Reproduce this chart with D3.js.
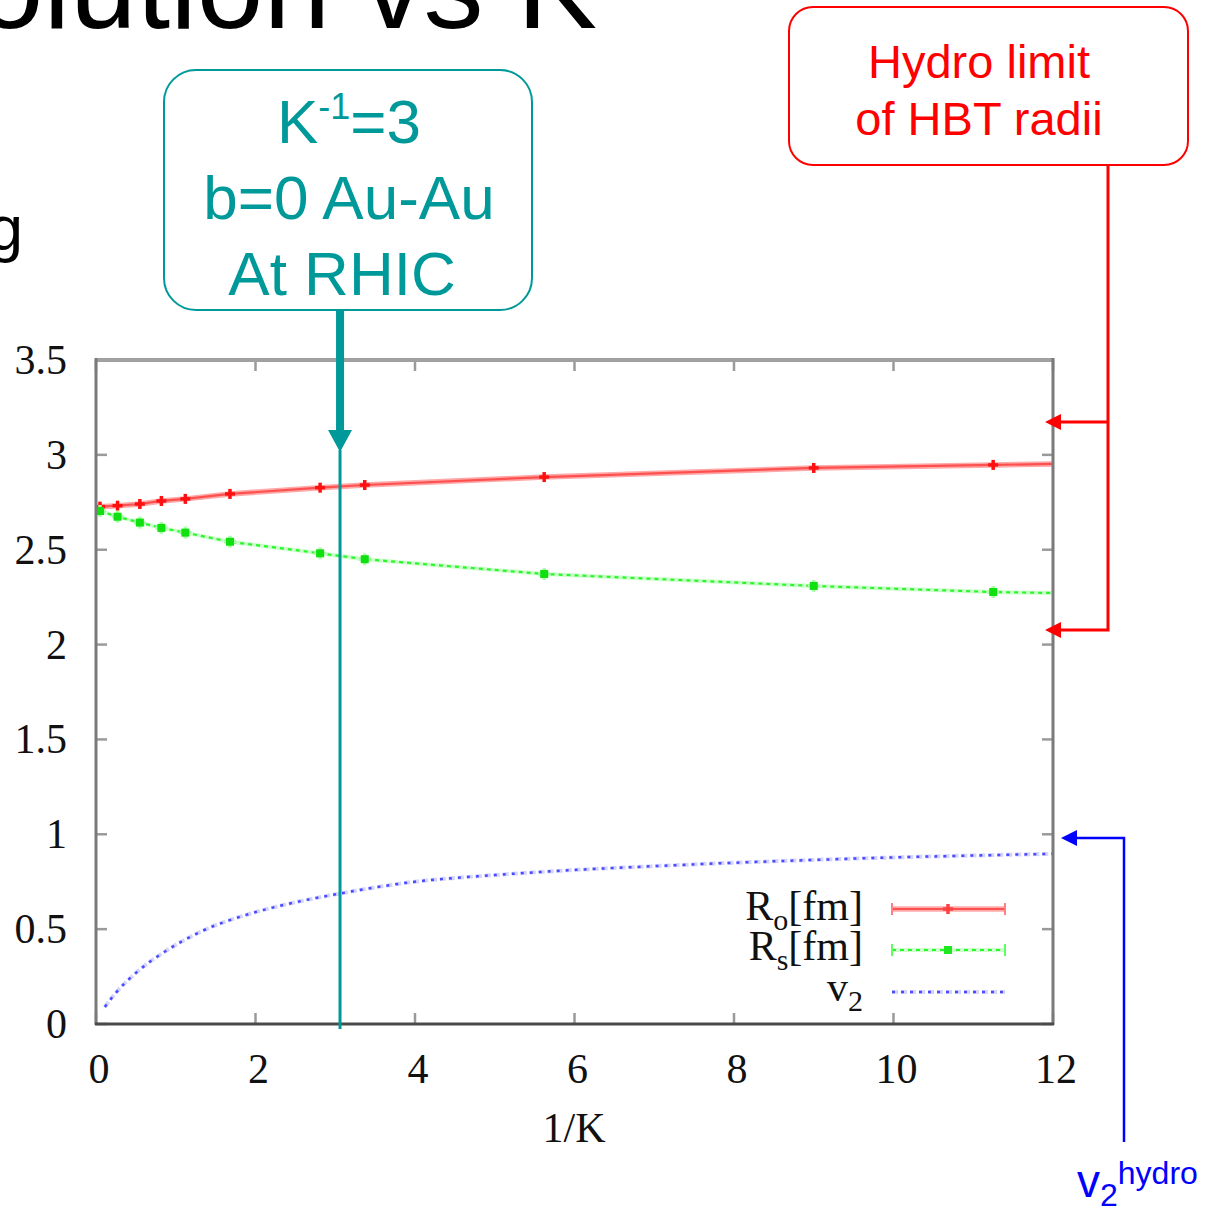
<!DOCTYPE html>
<html>
<head>
<meta charset="utf-8">
<script src="https://cdn.jsdelivr.net/npm/d3@7"></script>
<style>
  body { margin: 0; background: #fff; }
  svg { display: block; }
</style>
</head>
<body>
<svg id="chart" width="1207" height="1212"></svg>
<script>
// 1/K values of the transport runs (last entry is the line end at the frame)
const invK = [0.05, 0.27, 0.55, 0.82, 1.12, 1.68, 2.81, 3.37, 5.62, 9.0, 11.25, 12];
// HBT radii in fm
const rOut  = [2.727, 2.732, 2.741, 2.757, 2.768, 2.794, 2.827, 2.841, 2.883, 2.931, 2.947, 2.952];
const rSide = [2.704, 2.674, 2.643, 2.615, 2.590, 2.542, 2.481, 2.450, 2.372, 2.309, 2.277, 2.272];
// elliptic flow curve
const v2X   = [0.11, 0.24, 0.53, 0.88, 1.33, 1.92, 2.42, 3.05, 4, 5, 6, 7, 8, 9, 10, 11, 12];
const v2Val = [0.09, 0.16, 0.28, 0.386, 0.49, 0.58, 0.634, 0.687, 0.75, 0.785, 0.812, 0.832, 0.85, 0.865, 0.878, 0.888, 0.897];
// axis ticks
const xTicks = [0, 2, 4, 6, 8, 10, 12];
const yTicks = [0, 0.5, 1, 1.5, 2, 2.5, 3, 3.5];
// legend entries
const legendNames = [["R", "o", "[fm]"], ["R", "s", "[fm]"], ["v", "2", ""]];

const svg = d3.select("#chart");
const serif = "'Liberation Serif', 'DejaVu Serif', serif";
const sans = "'Liberation Sans', Arial, sans-serif";

const x = d3.scaleLinear().domain([0, 12]).range([96, 1053]);
const y = d3.scaleLinear().domain([0, 3.5]).range([1024, 360]);

// slide title and cropped body text
svg.append("text").attr("x", 597).attr("y", 28).attr("text-anchor", "end")
  .attr("font-family", sans).attr("font-size", 120).attr("fill", "#000")
  .text("Evolution vs K");
svg.append("text").attr("x", -12).attr("y", 250)
  .attr("font-family", sans).attr("font-size", 63).attr("fill", "#000")
  .text("g");

// plot clip
svg.append("clipPath").attr("id", "plotclip").append("rect")
  .attr("x", 96).attr("y", 360).attr("width", 957).attr("height", 664);

// ticks (mirrored on all four sides, pointing inward)
const tickG = svg.append("g").attr("stroke", "#9a9a9a").attr("stroke-width", 2.5);
yTicks.forEach(t => {
  tickG.append("line").attr("x1", x(0)).attr("x2", x(0) + 11).attr("y1", y(t)).attr("y2", y(t));
  tickG.append("line").attr("x1", x(12)).attr("x2", x(12) - 11).attr("y1", y(t)).attr("y2", y(t));
});
xTicks.forEach(t => {
  tickG.append("line").attr("x1", x(t)).attr("x2", x(t)).attr("y1", y(0)).attr("y2", y(0) - 11);
  tickG.append("line").attr("x1", x(t)).attr("x2", x(t)).attr("y1", y(3.5)).attr("y2", y(3.5) + 11);
});

// tick labels
svg.append("g").selectAll("text").data(yTicks).join("text")
  .attr("x", 67).attr("y", d => y(d) + 14).attr("text-anchor", "end")
  .attr("font-family", serif).attr("font-size", 42).attr("fill", "#111")
  .text(d => String(d));
svg.append("g").selectAll("text").data(xTicks).join("text")
  .attr("x", d => x(d) + 3).attr("y", 1083).attr("text-anchor", "middle")
  .attr("font-family", serif).attr("font-size", 42).attr("fill", "#111")
  .text(d => String(d));
svg.append("text").attr("x", 574).attr("y", 1142).attr("text-anchor", "middle")
  .attr("font-family", serif).attr("font-size", 42).attr("fill", "#111")
  .text("1/K");

// series
const plot = svg.append("g").attr("clip-path", "url(#plotclip)");
const outPts = invK.map((k, i) => [k, rOut[i]]);
const sidePts = invK.map((k, i) => [k, rSide[i]]);
const v2Pts = v2X.map((k, i) => [k, v2Val[i]]);
const line = d3.line().x(d => x(d[0])).y(d => y(d[1]));
const smooth = d3.line().x(d => x(d[0])).y(d => y(d[1])).curve(d3.curveMonotoneX);

// R_out: thick pale red line with + markers
plot.append("path").attr("d", line(outPts)).attr("fill", "none")
  .attr("stroke", "#ffa8a8").attr("stroke-width", 5.5);
plot.append("path").attr("d", line(outPts)).attr("fill", "none")
  .attr("stroke", "#ff5050").attr("stroke-width", 2.2);
const plus = (g, cx, cy, col, r) => {
  g.append("line").attr("x1", cx - r).attr("x2", cx + r).attr("y1", cy).attr("y2", cy)
    .attr("stroke", col).attr("stroke-width", 3.5);
  g.append("line").attr("x1", cx).attr("x2", cx).attr("y1", cy - r).attr("y2", cy + r)
    .attr("stroke", col).attr("stroke-width", 3.5);
};
outPts.filter(d => d[0] < 12).forEach(d => plus(plot, x(d[0]), y(d[1]), "#ff1010", 5));

// R_side: dashed green line with square markers
plot.append("path").attr("d", line(sidePts)).attr("fill", "none")
  .attr("stroke", "#ccffcc").attr("stroke-width", 4);
plot.append("path").attr("d", line(sidePts)).attr("fill", "none")
  .attr("stroke", "#2bf52b").attr("stroke-width", 2.2).attr("stroke-dasharray", "4,4");
sidePts.filter(d => d[0] < 12).forEach(d => {
  plus(plot, x(d[0]), y(d[1]), "#a8ffa8", 6);
  plot.append("rect").attr("x", x(d[0]) - 4).attr("y", y(d[1]) - 4)
    .attr("width", 8).attr("height", 8).attr("fill", "#10e010");
});

// v2: dotted blue curve
plot.append("path").attr("d", smooth(v2Pts)).attr("fill", "none")
  .attr("stroke", "#d4d4ff").attr("stroke-width", 4).attr("stroke-dasharray", "6,3");
plot.append("path").attr("d", smooth(v2Pts)).attr("fill", "none")
  .attr("stroke", "#4a4aff").attr("stroke-width", 2.5).attr("stroke-dasharray", "3,6");

// frame
svg.append("line").attr("x1", 96).attr("x2", 1053).attr("y1", 360).attr("y2", 360)
  .attr("stroke", "#a0a0a0").attr("stroke-width", 4);
svg.append("line").attr("x1", 96).attr("x2", 96).attr("y1", 358).attr("y2", 1025)
  .attr("stroke", "#7a7a7a").attr("stroke-width", 3);
svg.append("line").attr("x1", 1053).attr("x2", 1053).attr("y1", 358).attr("y2", 1025)
  .attr("stroke", "#7a7a7a").attr("stroke-width", 3);
svg.append("line").attr("x1", 95).attr("x2", 1054).attr("y1", 1024).attr("y2", 1024)
  .attr("stroke", "#4a4a4a").attr("stroke-width", 3);

// legend
const legY = [920, 960, 1001];
const lg = svg.append("g").attr("font-family", serif).attr("fill", "#111");
legendNames.forEach((n, i) => {
  const t = lg.append("text").attr("x", 863).attr("y", legY[i]).attr("text-anchor", "end")
    .attr("font-size", 42);
  t.append("tspan").text(n[0]);
  t.append("tspan").attr("font-size", 30).attr("dy", 10).text(n[1]);
  if (n[2]) t.append("tspan").attr("dy", -10).text(n[2]);
});
const s1 = 909, s2 = 950, s3 = 992;
lg.append("line").attr("x1", 892).attr("x2", 1005).attr("y1", s1).attr("y2", s1)
  .attr("stroke", "#ffa8a8").attr("stroke-width", 5.5);
lg.append("line").attr("x1", 892).attr("x2", 1005).attr("y1", s1).attr("y2", s1)
  .attr("stroke", "#ff5050").attr("stroke-width", 2.2);
[892, 1005].forEach(px => lg.append("line").attr("x1", px).attr("x2", px)
  .attr("y1", s1 - 6).attr("y2", s1 + 6).attr("stroke", "#ff8080").attr("stroke-width", 2));
plus(lg, 948, s1, "#ff4040", 5);
lg.append("line").attr("x1", 892).attr("x2", 1005).attr("y1", s2).attr("y2", s2)
  .attr("stroke", "#ccffcc").attr("stroke-width", 4);
lg.append("line").attr("x1", 892).attr("x2", 1005).attr("y1", s2).attr("y2", s2)
  .attr("stroke", "#2bf52b").attr("stroke-width", 2.2).attr("stroke-dasharray", "4,4");
[892, 1005].forEach(px => lg.append("line").attr("x1", px).attr("x2", px)
  .attr("y1", s2 - 6).attr("y2", s2 + 6).attr("stroke", "#60ff60").attr("stroke-width", 2));
lg.append("rect").attr("x", 944).attr("y", s2 - 4).attr("width", 8).attr("height", 8).attr("fill", "#20e820");
lg.append("line").attr("x1", 892).attr("x2", 1005).attr("y1", s3).attr("y2", s3)
  .attr("stroke", "#d4d4ff").attr("stroke-width", 4).attr("stroke-dasharray", "6,3");
lg.append("line").attr("x1", 892).attr("x2", 1005).attr("y1", s3).attr("y2", s3)
  .attr("stroke", "#4a4aff").attr("stroke-width", 2.5).attr("stroke-dasharray", "3,6");

// teal callout: K^-1 = 3
const teal = "#009999";
svg.append("rect").attr("x", 164).attr("y", 70).attr("width", 368).attr("height", 240)
  .attr("rx", 32).attr("fill", "#fff").attr("stroke", teal).attr("stroke-width", 2);
const tt = svg.append("g").attr("font-family", sans).attr("font-size", 62).attr("fill", teal)
  .attr("text-anchor", "middle");
const k1 = tt.append("text").attr("x", 349).attr("y", 143);
k1.append("tspan").text("K");
k1.append("tspan").attr("font-size", 36).attr("dy", -24).text("-1");
k1.append("tspan").attr("dy", 24).text("=3");
tt.append("text").attr("x", 349).attr("y", 219).text("b=0 Au-Au");
tt.append("text").attr("x", 342).attr("y", 295).text("At RHIC");
const kx = x(3.06);
svg.append("rect").attr("x", kx - 4).attr("y", 310).attr("width", 8).attr("height", 122).attr("fill", teal);
svg.append("path").attr("d", `M${kx - 12},430 L${kx + 12},430 L${kx},452 Z`).attr("fill", teal);
svg.append("line").attr("x1", kx).attr("x2", kx).attr("y1", 450).attr("y2", 1029)
  .attr("stroke", teal).attr("stroke-width", 3);

// red callout: hydro limit of HBT radii
const red = "#ff0000";
svg.append("rect").attr("x", 789).attr("y", 7).attr("width", 399).attr("height", 158)
  .attr("rx", 24).attr("fill", "#fff").attr("stroke", red).attr("stroke-width", 2);
const rt = svg.append("g").attr("font-family", sans).attr("font-size", 47).attr("fill", red)
  .attr("text-anchor", "middle");
rt.append("text").attr("x", 979).attr("y", 78).text("Hydro limit");
rt.append("text").attr("x", 979).attr("y", 135).text("of HBT radii");
svg.append("path").attr("d", "M1108,165 V630 H1060 M1108,422 H1060")
  .attr("fill", "none").attr("stroke", red).attr("stroke-width", 3);
[422, 630].forEach(py => svg.append("path")
  .attr("d", `M1045,${py} L1061,${py - 8} L1061,${py + 8} Z`).attr("fill", red));

// blue callout: v2 hydro
const blue = "#0000ff";
svg.append("path").attr("d", "M1124,1142 V838 H1074")
  .attr("fill", "none").attr("stroke", blue).attr("stroke-width", 2.5);
svg.append("path").attr("d", "M1061,838 L1077,830 L1077,846 Z").attr("fill", blue);
const vt = svg.append("text").attr("x", 1077).attr("y", 1197)
  .attr("font-family", sans).attr("font-size", 46).attr("fill", blue);
vt.append("tspan").text("v");
vt.append("tspan").attr("font-size", 32).attr("dy", 9).text("2");
vt.append("tspan").attr("font-size", 32).attr("dy", -22).text("hydro");
</script>
</body>
</html>
